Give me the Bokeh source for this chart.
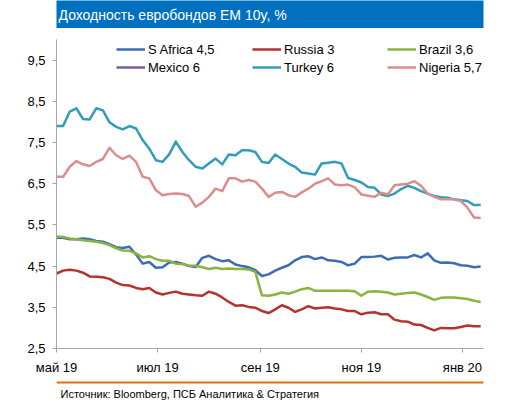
import math
import pandas as pd
from bokeh.plotting import figure
from bokeh.layouts import column
from bokeh.models import Range1d, FixedTicker, Legend, LegendItem, Label, BoxAnnotation
from bokeh.embed import file_html
from bokeh.resources import INLINE

# ---- data (sampled every 4 days from 1 May 2019) ----
dates = pd.date_range("2019-05-01", periods=65, freq="4D")

s_africa = [5.19, 5.19, 5.15, 5.15, 5.17, 5.15, 5.11, 5.09, 5.03, 4.96, 4.94, 4.97, 4.78, 4.56, 4.60, 4.46,
            4.47,
            4.59, 4.60, 4.56, 4.50, 4.48, 4.70, 4.75, 4.67, 4.62, 4.64, 4.54, 4.50, 4.47, 4.40, 4.26,
            4.30,
            4.39, 4.46, 4.52, 4.64, 4.72, 4.74, 4.67, 4.71, 4.64, 4.63, 4.60, 4.52, 4.56, 4.72, 4.72,
            4.73,
            4.75, 4.66, 4.70, 4.71, 4.71, 4.77, 4.71, 4.81, 4.64, 4.58, 4.59, 4.57, 4.52, 4.51, 4.47, 4.49]

russia = [4.32, 4.39, 4.41, 4.39, 4.34, 4.25, 4.24, 4.23, 4.19, 4.10, 4.04, 4.03, 3.97, 3.94, 3.97, 3.86,
          3.81,
          3.85, 3.88, 3.83, 3.81, 3.79, 3.78, 3.88, 3.83, 3.74, 3.63, 3.54, 3.55, 3.51, 3.49, 3.41,
          3.36,
          3.45, 3.55, 3.49, 3.39, 3.45, 3.53, 3.47, 3.49, 3.50, 3.47, 3.45, 3.41, 3.41, 3.33, 3.37,
          3.38,
          3.33, 3.33, 3.20, 3.16, 3.15, 3.08, 3.07, 3.00, 2.94, 3.00, 2.99, 2.99, 3.02, 3.06, 3.04, 3.04]

brazil = [5.21, 5.21, 5.17, 5.15, 5.13, 5.11, 5.09, 5.06, 5.01, 4.93, 4.88, 4.87, 4.81, 4.71, 4.74, 4.67,
          4.63,
          4.63, 4.56, 4.55, 4.51, 4.51, 4.47, 4.43, 4.46, 4.43, 4.44, 4.43, 4.43, 4.42, 4.36, 3.79,
          3.78,
          3.81, 3.86, 3.83, 3.88, 3.94, 3.97, 3.90, 3.90, 3.90, 3.90, 3.90, 3.90, 3.89, 3.78, 3.88,
          3.89,
          3.88, 3.86, 3.81, 3.83, 3.85, 3.86, 3.81, 3.75, 3.68, 3.73, 3.74, 3.74, 3.72, 3.70, 3.66, 3.63]

mexico = []  # not drawn in the chart, legend entry only

turkey = [7.90, 7.90, 8.25, 8.33, 8.07, 8.06, 8.33, 8.28, 7.99, 7.88, 7.82, 7.90, 7.84, 7.56, 7.35, 7.07,
          7.03,
          7.21, 7.52, 7.27, 7.07, 6.91, 6.87, 6.99, 7.11, 6.97, 7.21, 7.19, 7.31, 7.31, 7.27, 7.03,
          7.00,
          7.21, 7.10, 6.99, 6.91, 6.77, 6.75, 6.72, 6.99, 7.01, 7.03, 6.99, 6.64, 6.59, 6.53, 6.42,
          6.40,
          6.24, 6.20, 6.26, 6.37, 6.45, 6.40, 6.32, 6.26, 6.20, 6.17, 6.16, 6.12, 6.10, 6.08, 5.98, 5.98]

nigeria = [6.67, 6.67, 6.91, 7.05, 6.97, 6.93, 7.03, 7.10, 7.37, 7.19, 7.10, 7.18, 7.03, 6.67, 6.63, 6.34,
           6.22,
           6.25, 6.26, 6.25, 6.20, 5.94, 6.04, 6.18, 6.38, 6.32, 6.63, 6.63, 6.55, 6.59, 6.55, 6.38,
           6.18,
           6.28, 6.30, 6.22, 6.18, 6.29, 6.38, 6.50, 6.56, 6.63, 6.48, 6.46, 6.48, 6.41, 6.24, 6.21,
           6.18,
           6.28, 6.24, 6.46, 6.48, 6.50, 6.56, 6.45, 6.26, 6.18, 6.12, 6.12, 6.12, 6.08, 5.92, 5.68, 5.67]

series_names = ["S Africa 4,5", "Russia 3", "Brazil 3,6", "Mexico 6", "Turkey 6", "Nigeria 5,7"]
series_values = [s_africa, russia, brazil, mexico, turkey, nigeria]
series_colors = ["#3C6DB4", "#B5332F", "#8AB33F", "#7A5FA6", "#339CB8", "#D98F8C"]

x_tick_dates = ["2019-05-01", "2019-07-01", "2019-09-01", "2019-11-01", "2020-01-01"]
x_tick_labels = ["май 19", "июл 19", "сен 19", "ноя 19", "янв 20"]
y_ticks = [2.5, 3.5, 4.5, 5.5, 6.5, 7.5, 8.5, 9.5]
y_tick_labels = ["2,5", "3,5", "4,5", "5,5", "6,5", "7,5", "8,5", "9,5"]

title_text = "Доходность евробондов EM 10y, %"
source_text = "Источник: Bloomberg, ПСБ Аналитика & Стратегия"

W = 517
TITLE_H, MAIN_H, FOOT_H = 28, 350, 23
AX_FONT = "Liberation Sans"

# ---- title bar ----
tf = figure(width=W, height=TITLE_H, output_backend="svg", toolbar_location=None,
            x_range=Range1d(0, 1), y_range=Range1d(0, 1),
            x_axis_location=None, y_axis_location=None,
            min_border_left=17, min_border_right=0, min_border_top=0, min_border_bottom=0)
tf.outline_line_color = None
tf.grid.visible = False
tf.background_fill_color = "#0070C0"
tf.border_fill_color = "white"
tf.add_layout(Label(x=2, y=TITLE_H / 2 - 0.5, x_units="screen", y_units="screen",
                    text=title_text, text_color="white", text_font=AX_FONT,
                    text_font_size="14px", text_baseline="middle", text_align="left"))

# ---- main chart ----
BL, BR, BT = 56, 34, 11
BB = MAIN_H - BT - 309
p = figure(width=W, height=MAIN_H, output_backend="svg", toolbar_location=None,
           x_axis_type="datetime",
           x_range=Range1d(pd.Timestamp("2019-05-01"), pd.Timestamp("2020-01-13 17:00")),
           y_range=Range1d(2.5, 10.0),
           min_border_left=BL, min_border_right=BR, min_border_top=BT, min_border_bottom=BB)
p.outline_line_color = None
p.xgrid.grid_line_color = None
p.ygrid.grid_line_color = None
p.background_fill_color = "white"
p.border_fill_color = "white"

axis_col = "#A6A6A6"
x_ms = [pd.Timestamp(d).value // 10**6 for d in x_tick_dates]
p.xaxis.ticker = FixedTicker(ticks=x_ms)
p.xaxis.major_label_overrides = {m: l for m, l in zip(x_ms, x_tick_labels)}
p.yaxis.ticker = FixedTicker(ticks=y_ticks)
p.yaxis.major_label_overrides = {v: l for v, l in zip(y_ticks, y_tick_labels)}
for ax in (p.xaxis, p.yaxis):
    ax.axis_line_color = axis_col
    ax.axis_line_width = 1
    ax.major_tick_line_color = axis_col
    ax.major_tick_in = 0
    ax.major_tick_out = 4
    ax.minor_tick_line_color = None
    ax.major_label_text_font = AX_FONT
    ax.major_label_text_font_size = "13px"
    ax.major_label_text_color = "#000000"
    ax.major_label_standoff = 7

renderers = []
for name, vals, col in zip(series_names, series_values, series_colors):
    if len(vals) == 0:
        # legend-only renderer (no visible data)
        r = p.line(x=[dates[0]], y=[math.nan], line_color=col, line_width=2.5)
    else:
        r = p.line(x=list(dates[:len(vals)]), y=vals, line_color=col, line_width=2.5,
                   line_join="round")
    renderers.append(r)

col_x = [60, 196, 331]
for c in range(3):
    items = [LegendItem(label=series_names[c], renderers=[renderers[c]]),
             LegendItem(label=series_names[c + 3], renderers=[renderers[c + 3]])]
    leg = Legend(items=items, location=(col_x[c], 273), orientation="vertical",
                 glyph_width=29, glyph_height=16, label_height=16, label_standoff=3,
                 spacing=2, padding=0, margin=0,
                 border_line_color=None, background_fill_alpha=0,
                 label_text_font=AX_FONT, label_text_font_size="13px",
                 label_text_color="#000000")
    p.add_layout(leg)

# ---- footer ----
ff = figure(width=W, height=FOOT_H, output_backend="svg", toolbar_location=None,
            x_range=Range1d(0, 1), y_range=Range1d(0, 1),
            x_axis_location=None, y_axis_location=None,
            min_border_left=16, min_border_right=0, min_border_top=0, min_border_bottom=0)
ff.outline_line_color = None
ff.grid.visible = False
ff.background_fill_color = "white"
ff.border_fill_color = "white"
ff.add_layout(BoxAnnotation(left=0, right=W, top=FOOT_H - 3, bottom=FOOT_H - 5,
                            left_units="screen", right_units="screen",
                            top_units="screen", bottom_units="screen",
                            fill_color="#E46C0A", fill_alpha=1.0, line_color=None))
ff.add_layout(Label(x=4, y=FOOT_H - 15, x_units="screen", y_units="screen",
                    text=source_text, text_color="#000000", text_font=AX_FONT,
                    text_font_size="11px", text_baseline="middle", text_align="left"))

layout = column(tf, p, ff, spacing=0)
open("out.html", "w").write(file_html(layout, INLINE))
